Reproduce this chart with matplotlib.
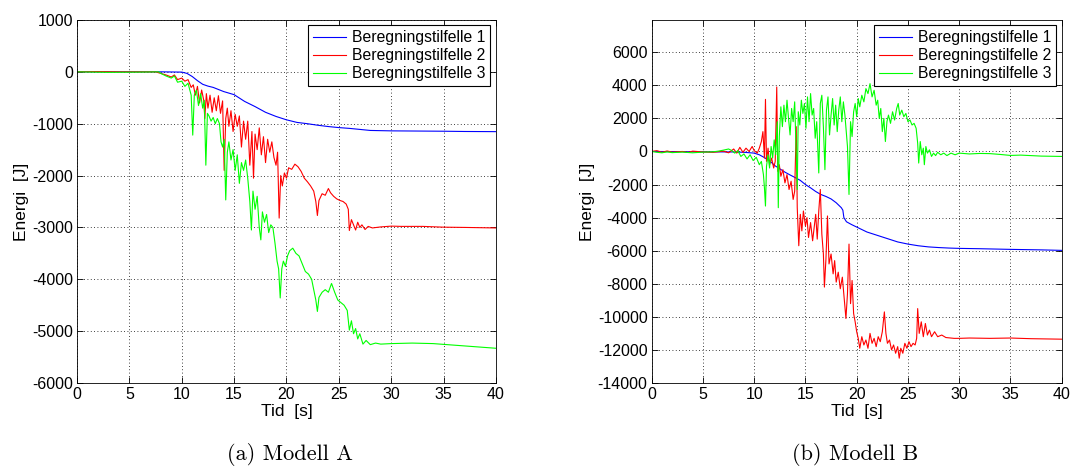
import numpy as np
import matplotlib
matplotlib.use('Agg')
import matplotlib.pyplot as plt

plt.rcParams['font.family'] = ['Liberation Sans', 'DejaVu Sans']
plt.rcParams['axes.unicode_minus'] = False

labels = ['Beregningstilfelle 1', 'Beregningstilfelle 2', 'Beregningstilfelle 3']
colors = ['#0000ff', '#ff0000', '#00ff00']

# ---- Modell A ----
tA1 = [0, 8, 10, 10.5, 11, 11.5, 12, 12.5, 13, 13.5, 14, 14.5, 15, 16, 17, 18, 19, 20,
       21, 22, 23, 24, 25, 26, 27, 28, 30, 35, 37, 40]
eA1 = [0, 0, -5, -30, -90, -170, -240, -275, -300, -340, -380, -410, -440, -570, -670, -780,
       -860, -925, -975, -1000, -1030, -1055, -1075, -1090, -1110, -1130, -1138, -1145, -1150, -1153]

tA2 = [0, 2, 4, 6, 7.5, 8, 8.5, 9, 9.3, 9.6, 10, 10.3, 10.6, 10.9, 11.1, 11.3, 11.5, 11.7, 11.9,
       12.1, 12.2, 12.35, 12.5, 12.7, 12.9, 13.1, 13.3, 13.5, 13.7, 13.9, 14.05, 14.2, 14.35, 14.5,
       14.7, 14.9, 15.1, 15.3, 15.5, 15.7, 15.9, 16.1, 16.3, 16.5, 16.7, 16.85, 17.0, 17.2, 17.4,
       17.6, 17.8, 18.0, 18.2, 18.4, 18.6, 18.8, 19.0, 19.15, 19.3, 19.45, 19.6, 19.8, 20.0, 20.2,
       20.5, 20.8, 21.1, 21.4, 21.7, 22.0, 22.3, 22.6, 22.8, 22.95, 23.1, 23.4, 23.7, 24.0, 24.2,
       24.5, 24.8, 25.1, 25.4, 25.7, 25.9, 26.0, 26.2, 26.4, 26.6, 26.8, 27.0, 27.2, 27.5, 27.8,
       28.2, 29, 30, 31, 33, 35, 37, 40]
eA2 = [0, 5, 0, 0, 0, -30, -60, -100, -60, -150, -120, -180, -150, -300, -250, -450, -280, -600, -350,
       -550, -900, -420, -700, -450, -780, -500, -750, -460, -800, -560, -1900, -900, -700, -1050,
       -750, -1150, -820, -1050, -850, -1450, -950, -1300, -950, -1800, -1150, -2050, -1200, -1500, -1080,
       -1600, -1250, -1750, -1300, -1550, -1350, -1650, -1800, -1550, -2820, -2000, -2200, -1950, -2050, -1850,
       -1880, -1780, -1830, -1920, -2050, -2120, -2200, -2300, -2500, -2770, -2480, -2350, -2380, -2250, -2330,
       -2400, -2450, -2480, -2500, -2550, -2650, -3060, -2850, -2950, -3050, -2900, -3000, -2950, -3040, -2980,
       -3010, -2990, -2975, -2980, -2980, -2995, -3000, -3010]

tA3 = [0, 3, 6, 7.8, 8, 8.5, 9, 9.3, 9.6, 10, 10.3, 10.6, 10.9, 11.05, 11.2, 11.4, 11.6, 11.8, 12.0,
       12.15, 12.3, 12.45, 12.6, 12.8, 13.0, 13.2, 13.4, 13.6, 13.75, 13.9, 14.05, 14.2, 14.35, 14.5,
       14.7, 14.9, 15.1, 15.3, 15.5, 15.7, 15.9, 16.1, 16.3, 16.5, 16.65, 16.8, 17.0, 17.2, 17.4, 17.55,
       17.7, 17.9, 18.1, 18.3, 18.5, 18.7, 18.9, 19.1, 19.25, 19.4, 19.55, 19.7, 19.9, 20.1, 20.3, 20.6,
       20.9, 21.2, 21.5, 21.8, 22.1, 22.4, 22.6, 22.8, 22.95, 23.1, 23.4, 23.7, 24.0, 24.3, 24.6, 24.9,
       25.2, 25.5, 25.8, 26.0, 26.2, 26.4, 26.6, 26.8, 27.0, 27.3, 27.6, 28.0, 28.5, 29, 30, 32, 34, 36,
       38, 40]
eA3 = [0, -10, -5, 0, -30, -80, -120, -80, -200, -180, -280, -220, -450, -1220, -450, -350, -650, -420, -700,
       -550, -1800, -800, -850, -950, -880, -1000, -900, -1000, -1350, -1450, -1300, -2470, -1550, -1350,
       -1700, -1500, -1900, -1600, -2150, -1750, -1900, -1700, -2050, -2500, -3050, -2300, -2650, -2400, -3000, -3240,
       -2700, -2900, -2750, -3100, -2950, -3000, -3300, -3650, -3800, -4360, -3800, -3650, -3750, -3550, -3450, -3400,
       -3500, -3550, -3700, -3850, -3900, -4000, -4200, -4400, -4620, -4350, -4250, -4200, -4250, -4080, -4250, -4400,
       -4450, -4500, -4600, -4980, -4800, -5050, -4950, -5150, -5050, -5250, -5180, -5260, -5230, -5250, -5240, -5230, -5240, -5270,
       -5300, -5330]

# ---- Modell B ----
tB1 = [0, 5, 8, 9, 10, 10.5, 11, 11.5, 12, 12.5, 13, 13.5, 14, 14.5, 15, 15.5, 16, 16.5, 17, 17.5,
       18, 18.5, 18.65, 18.75, 19, 19.5, 20, 21, 22, 23, 24, 25, 26, 27, 28, 29, 30, 32, 35, 38, 40]
eB1 = [0, -20, -30, -50, -100, -200, -370, -560, -850, -1050, -1250, -1420, -1580, -1750, -2000, -2200,
       -2420, -2600, -2720, -2870, -3100, -3400, -3550, -4000, -4250, -4420, -4570, -4870, -5070, -5270,
       -5470, -5600, -5700, -5770, -5810, -5840, -5860, -5880, -5920, -5950, -5980]

tB2 = [0, 0.5, 1, 1.5, 2, 3, 3.5, 4, 5, 6, 7, 7.5, 8, 8.3, 8.6, 8.9, 9.2, 9.5, 9.8, 10.0, 10.3, 10.5,
       10.7, 10.85, 11.0, 11.1, 11.2, 11.35, 11.5, 11.7, 11.9, 12.05, 12.2, 12.3, 12.45, 12.6, 12.8, 13.0,
       13.2, 13.4, 13.6, 13.8, 13.95, 14.1, 14.2, 14.35, 14.5, 14.65, 14.8, 15.0, 15.15, 15.3, 15.5, 15.7,
       15.85, 16.0, 16.15, 16.3, 16.45, 16.6, 16.75, 16.85, 17.0, 17.15, 17.3, 17.5, 17.7, 17.85, 18.0,
       18.2, 18.4, 18.6, 18.8, 18.95, 19.1, 19.25, 19.4, 19.55, 19.7, 19.85, 20.0, 20.15, 20.3, 20.5,
       20.7, 20.9, 21.1, 21.3, 21.5, 21.7, 21.9, 22.1, 22.3, 22.5, 22.7, 22.85, 23.0, 23.2, 23.4, 23.6,
       23.8, 24.0, 24.15, 24.3, 24.5, 24.7, 24.9, 25.1, 25.3, 25.5, 25.7, 25.85, 25.95, 26.1, 26.3, 26.5,
       26.7, 26.9, 27.1, 27.3, 27.6, 27.9, 28.3, 28.7, 29.5, 30, 31, 33, 35, 37, 40]
eB2 = [0, 50, -50, 30, -40, 0, -60, 20, -30, -50, 20, -80, 150, -100, 250, -50, 200, 0, 300, 50, -100, 200,
       600, 1200, -400, 3150, -600, 200, -800, -400, -1000, -600, 3900, -1200, -800, -1500, -1100, -1900,
       -1400, -2300, -1800, -2900, -2400, 1500, -3400, -5700, -3800, -4800, -3600, -4500, -4000, -5200, -4300, -5400,
       -4600, -3800, -5300, -3600, -2300, -5000, -6200, -8200, -6500, -3900, -6800, -6200, -7400, -6600, -7900,
       -7300, -8300, -7600, -9000, -10100, -8600, -5600, -9200, -7800, -9800, -10300, -10900, -11300, -11900, -11200,
       -11700, -11400, -11900, -11000, -11600, -11300, -11800, -11200, -11500, -10900, -9700, -11000, -11600, -11400, -12000, -11700,
       -12200, -11800, -12500, -11900, -12200, -11600, -11900, -11500, -11800, -11600, -11700, -11300, -9500, -11000, -10300, -11200,
       -10400, -11100, -10800, -11200, -10900, -11200, -11100, -11250, -11300, -11300, -11280, -11300, -11280, -11320, -11350]

tB3 = [0, 0.5, 1, 1.5, 2, 3, 4, 5, 6, 6.5, 7, 7.5, 7.8, 8.1, 8.4, 8.7, 9.0, 9.3, 9.6, 9.9, 10.2, 10.5,
       10.7, 10.9, 11.0, 11.1, 11.2, 11.35, 11.5, 11.65, 11.8, 11.95, 12.1, 12.25, 12.35, 12.45, 12.6, 12.75,
       12.9, 13.05, 13.2, 13.35, 13.5, 13.65, 13.8, 13.95, 14.1, 14.2, 14.3, 14.45, 14.6, 14.75, 14.9, 15.05,
       15.2, 15.35, 15.5, 15.65, 15.8, 15.95, 16.1, 16.3, 16.45, 16.6, 16.75, 16.9, 17.05, 17.2, 17.35, 17.5,
       17.65, 17.8, 17.95, 18.1, 18.25, 18.4, 18.55, 18.7, 18.85, 19.0, 19.1, 19.25, 19.4, 19.55, 19.7, 19.85,
       20.0, 20.15, 20.3, 20.5, 20.7, 20.9, 21.1, 21.3, 21.5, 21.7, 21.9, 22.05, 22.2, 22.35, 22.5, 22.65,
       22.8, 22.95, 23.1, 23.3, 23.5, 23.7, 23.9, 24.05, 24.2, 24.4, 24.6, 24.8, 25.0, 25.2, 25.4, 25.6, 25.8,
       25.95, 26.05, 26.2, 26.35, 26.5, 26.6, 26.75, 26.9, 27.1, 27.3, 27.5, 27.7, 27.9, 28.2, 28.5, 28.8, 29.2,
       29.6, 30, 31, 32, 33, 34, 35, 36, 38, 40]
eB3 = [0, -50, -80, -30, -70, -40, -80, -40, -20, 20, 80, 150, 60, -100, 50, -300, -150, -450, -200, -550, -350, -800,
       -600, -1400, -2200, -3300, -900, -200, -1000, 300, -400, 700, -200, 1800, -3400, 900, 2700, 1500,
       2800, 1800, 3100, 2000, 1000, 2600, 1800, 3000, -300, -2300, 2400, 1600, 3100, 2300, 2900, 1400,
       3300, 1800, 3500, 2200, 2600, 800, 1800, -1300, 2900, 3400, 1500, -1100, 2500, 3300, 1000, 2200,
       3200, 1600, 2800, 1200, 2500, 3300, 1800, 3000, 2200, 1100, 300, -2600, 1800, 900, 2400, 2900,
       2100, 3200, 2700, 3400, 3000, 3800, 3500, 4100, 3300, 3700, 2800, 3100, 2000, 2600, 1200, 2000,
       600, 1800, 2200, 1700, 2400, 1900, 2600, 2900, 2200, 2500, 2100, 2300, 1800, 1900, 1600, 1700, 1400,
       500, -700, 600, -200, 200, -800, 300, -100, 100, -300, -100, -250, -50, -200, -100, -250, -100,
       -200, -100, -150, -120, -130, -180, -240, -220, -280, -300]

fig = plt.figure(figsize=(10.71, 4.68), dpi=100)
ax1 = fig.add_axes([0.0719, 0.1816, 0.3912, 0.7757])
ax2 = fig.add_axes([0.6085, 0.1816, 0.3828, 0.7757])

def style(ax, ylim, yticks):
    ax.set_xlim(0, 40)
    ax.set_ylim(*ylim)
    ax.set_xticks(np.arange(0, 41, 5))
    ax.set_yticks(yticks)
    ax.grid(True, linestyle=(0, (1, 3)), color='black', linewidth=0.6)
    ax.tick_params(direction='in', length=4, width=0.6, labelsize=11.5, top=True, right=True, pad=3)
    for s in ax.spines.values():
        s.set_linewidth(0.6)
    ax.set_xlabel('Tid  [s]', fontsize=12.5, labelpad=1)
    ax.set_ylabel('Energi  [J]', fontsize=12.5, labelpad=2)
    ax.legend(loc='upper right', fontsize=11.3, frameon=True, fancybox=False,
              edgecolor='black', framealpha=1, handlelength=2.1, borderpad=0.3,
              labelspacing=0.2, handletextpad=0.4, borderaxespad=0.35)
    ax.get_legend().get_frame().set_linewidth(0.8)

for t, e, c, lab in zip([tA1, tA2, tA3], [eA1, eA2, eA3], colors, labels):
    ax1.plot(t, e, color=c, linewidth=0.8, label=lab)
style(ax1, (-6000, 1000), np.arange(-6000, 1001, 1000))

for t, e, c, lab in zip([tB1, tB2, tB3], [eB1, eB2, eB3], colors, labels):
    ax2.plot(t, e, color=c, linewidth=0.8, label=lab)
style(ax2, (-14000, 7950), np.arange(-14000, 6001, 2000))

fig.text(0.271, 0.028, '(a) Modell A', ha='center', va='center', fontsize=16, family='cmr10')
fig.text(0.798, 0.028, '(b) Modell B', ha='center', va='center', fontsize=16, family='cmr10')

fig.savefig('out.png', dpi=100)
